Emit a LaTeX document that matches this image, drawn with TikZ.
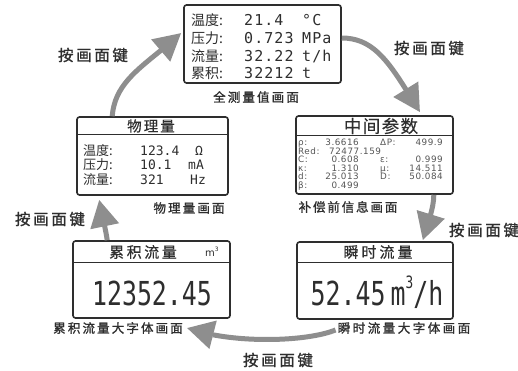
\documentclass[tikz,border=0pt]{standalone}
\usepackage{fontspec}
\usepackage{graphicx}
\usetikzlibrary{arrows.meta,bending,calc}
\newfontfamily\cjk{Noto Sans CJK SC}
\newfontfamily\monof{DejaVu Sans Mono}
\newfontfamily\sansf{DejaVu Sans}
\newcommand\cj[2]{\fontsize{#1}{#1}\cjk\addfontfeature{LetterSpace=#2}}
\newcommand\cjb[2]{\fontsize{#1}{#1}\cjk\addfontfeatures{LetterSpace=#2,FakeBold=1.2}}
\newcommand\cjm[2]{\fontsize{#1}{#1}\cjk\addfontfeatures{LetterSpace=#2,FakeBold=0.5}}
\newcommand\mo[2]{\fontsize{#1}{#1}\monof\addfontfeature{LetterSpace=#2}}
\newcommand\smf{\fontsize{8.8}{8.8}\sansf\addfontfeature{LetterSpace=6}}
\definecolor{ink}{HTML}{2E2E2E}
\definecolor{soft}{HTML}{555555}
\definecolor{arr}{HTML}{8E8E8E}
\begin{document}
\begin{tikzpicture}[x=1pt,y=-1pt,
  panel/.style={draw=ink, line width=1.6pt, rounded corners=2.5pt, fill=white, inner sep=0pt},
  sepline/.style={draw=ink, line width=1.2pt},
  txt/.style={inner sep=0pt, text=ink},
  sm/.style={inner sep=0pt, text=soft, font=\smf},
  flow/.style={draw=arr, line width=5pt, -{Triangle[width=28pt,length=27pt]}}]
\path[use as bounding box, fill=white] (0,0) rectangle (518,371);

% ---------- top panel
\node[panel, minimum width=157pt, minimum height=78pt] (top) at (262.5,44) {};
\node[txt, anchor=base west] (t1a) at (191,26) {\cj{14}{0}温度:};
\node[txt, anchor=base west] (t1b) at (244,26) {\mo{15}{7}21.4};
\node[txt, anchor=base west] (t1c) at (302,26) {\mo{15}{7}°C};
\node[txt, anchor=base west] (t2a) at (191,43.7) {\cj{14}{0}压力:};
\node[txt, anchor=base west] (t2b) at (244,43.7) {\mo{15}{7}0.723};
\node[txt, anchor=base west] (t2c) at (302,43.7) {\mo{15}{7}MPa};
\node[txt, anchor=base west] (t3a) at (191,61.4) {\cj{14}{0}流量:};
\node[txt, anchor=base west] (t3b) at (244,61.4) {\mo{15}{7}32.22};
\node[txt, anchor=base west] (t3c) at (302,61.4) {\mo{15}{7}t/h};
\node[txt, anchor=base west] (t4a) at (191,79) {\cj{14}{0}累积:};
\node[txt, anchor=base west] (t4b) at (244,79) {\mo{15}{7}32212};
\node[txt, anchor=base west] (t4c) at (302,79) {\mo{15}{7}t};
\node[txt] (topcap) at (256,97) {\cjb{12.5}{17}全测量值画面};

% ---------- middle panel
\node[panel, minimum width=157pt, minimum height=78pt] (mid) at (374.5,155) {};
\draw[sepline] ([yshift=-20pt]mid.north west) -- ([yshift=-20pt]mid.north east);
\node[txt] (midt) at (381,126) {\cjm{17.5}{8}中间参数};
\node[sm, anchor=base west] (m1a) at (298,146) {ρ:};
\node[sm, anchor=base east] (m1b) at (359,146) {3.6616};
\node[sm, anchor=base west] (m1c) at (380,146) {ΔP:};
\node[sm, anchor=base east] (m1d) at (443,146) {499.9};
\node[sm, anchor=base west] (m2a) at (298,154.4) {Red:};
\node[sm, anchor=base west] (m2b) at (329,154.4) {72477.159};
\node[sm, anchor=base west] (m3a) at (298,162.8) {C:};
\node[sm, anchor=base east] (m3b) at (359,162.8) {0.608};
\node[sm, anchor=base west] (m3c) at (380,162.8) {ε:};
\node[sm, anchor=base east] (m3d) at (443,162.8) {0.999};
\node[sm, anchor=base west] (m4a) at (298,171.2) {κ:};
\node[sm, anchor=base east] (m4b) at (359,171.2) {1.310};
\node[sm, anchor=base west] (m4c) at (380,171.2) {μ:};
\node[sm, anchor=base east] (m4d) at (443,171.2) {14.511};
\node[sm, anchor=base west] (m5a) at (298,179.6) {d:};
\node[sm, anchor=base east] (m5b) at (359,179.6) {25.013};
\node[sm, anchor=base west] (m5c) at (380,179.6) {D:};
\node[sm, anchor=base east] (m5d) at (443,179.6) {50.084};
\node[sm, anchor=base west] (m6a) at (298,188) {β:};
\node[sm, anchor=base east] (m6b) at (359,188) {0.499};
\node[txt] (midcap) at (348,207) {\cjb{12.5}{15}补偿前信息画面};

% ---------- physical panel
\node[panel, minimum width=151pt, minimum height=78pt] (phys) at (152.5,156) {};
\draw[sepline] ([yshift=-18pt]phys.north west) -- ([yshift=-18pt]phys.north east);
\node[txt] (physt) at (151,126) {\cjm{14.5}{14}物理量};
\node[txt, anchor=base west] (p1a) at (83,156) {\cj{13}{0}温度:};
\node[txt, anchor=base west] (p1b) at (140,156) {\mo{13}{0}123.4};
\node[txt, anchor=base west] (p1c) at (195,156) {\mo{13}{0}Ω};
\node[txt, anchor=base west] (p2a) at (83,170) {\cj{13}{0}压力:};
\node[txt, anchor=base west] (p2b) at (140,170) {\mo{13}{0}10.1};
\node[txt, anchor=base west] (p2c) at (188,170) {\mo{13}{0}mA};
\node[txt, anchor=base west] (p3a) at (83,184) {\cj{13}{0}流量:};
\node[txt, anchor=base west] (p3b) at (140,184) {\mo{13}{0}321};
\node[txt, anchor=base west] (p3c) at (190,184) {\mo{13}{0}Hz};
\node[txt] (physcap) at (189,208) {\cjb{12.5}{17}物理量画面};

% ---------- cumulative panel
\node[panel, minimum width=157pt, minimum height=77pt] (cum) at (151.5,279.5) {};
\draw[sepline] ([yshift=-22pt]cum.north west) -- ([yshift=-22pt]cum.north east);
\node[txt] (cumt) at (143,252) {\cjm{15}{17}累积流量};
\node[txt, anchor=base west] (cumu) at (205,256) {\fontsize{10}{10}\sansf m\raisebox{5pt}{\fontsize{6}{6}\selectfont 3}};
\node[txt, anchor=base] (cumv) at (152,305) {\scalebox{0.754}[1]{\mo{33}{0}12352.45}};
\node[txt] (cumcap) at (118,328) {\cjb{12.5}{17}累积流量大字体画面};

% ---------- instantaneous panel
\node[panel, minimum width=156pt, minimum height=77pt] (inst) at (375,280.5) {};
\draw[sepline] ([yshift=-21pt]inst.north west) -- ([yshift=-21pt]inst.north east);
\node[txt] (instt) at (378,252) {\cjm{15}{20}瞬时流量};
\node[txt, anchor=base] (instv) at (377,305) {\scalebox{0.754}[1]{\mo{33}{0}52.45\kern0.2em m\raisebox{0.5em}{\fontsize{17}{17}\selectfont 3}/h}};
\node[txt] (instcap) at (404,328) {\cjb{12.5}{20}瞬时流量大字体画面};

% ---------- key labels
\node[txt] (k1) at (93,55) {\cjb{15.5}{17}按画面键};
\node[txt] (k2) at (429,48) {\cjb{15.5}{17}按画面键};
\node[txt] (k3) at (484,230) {\cjb{15.5}{17}按画面键};
\node[txt] (k5) at (50,219) {\cjb{15.5}{17}按画面键};
\node[txt] (k4) at (278,360) {\cjb{15.5}{17}按画面键};

% ---------- arrows
\draw[flow] ([xshift=36pt]phys.north west) .. controls +(3,-37) and +(-35,32) .. ([xshift=-2pt,yshift=11pt]top.west);
\draw[flow] ([yshift=6pt]top.east) .. controls +(35,0) and +(-28,-45) .. ([xshift=45.5pt,yshift=3pt]mid.north);
\draw[flow] ([xshift=-20pt]mid.south east) .. controls +(0,10) and +(8,-25) .. ([xshift=-31pt,yshift=1pt]inst.north east);
\draw[flow] ([xshift=-2pt,yshift=-2pt]instcap.west) .. controls +(-30,12) and +(45,16) .. ([xshift=4pt]cumcap.east);
\draw[flow] ([xshift=35pt]cum.north west) .. controls +(-1,-8) and +(3,15) .. ([xshift=23pt,yshift=-4pt]phys.south west);
\end{tikzpicture}
\end{document}
